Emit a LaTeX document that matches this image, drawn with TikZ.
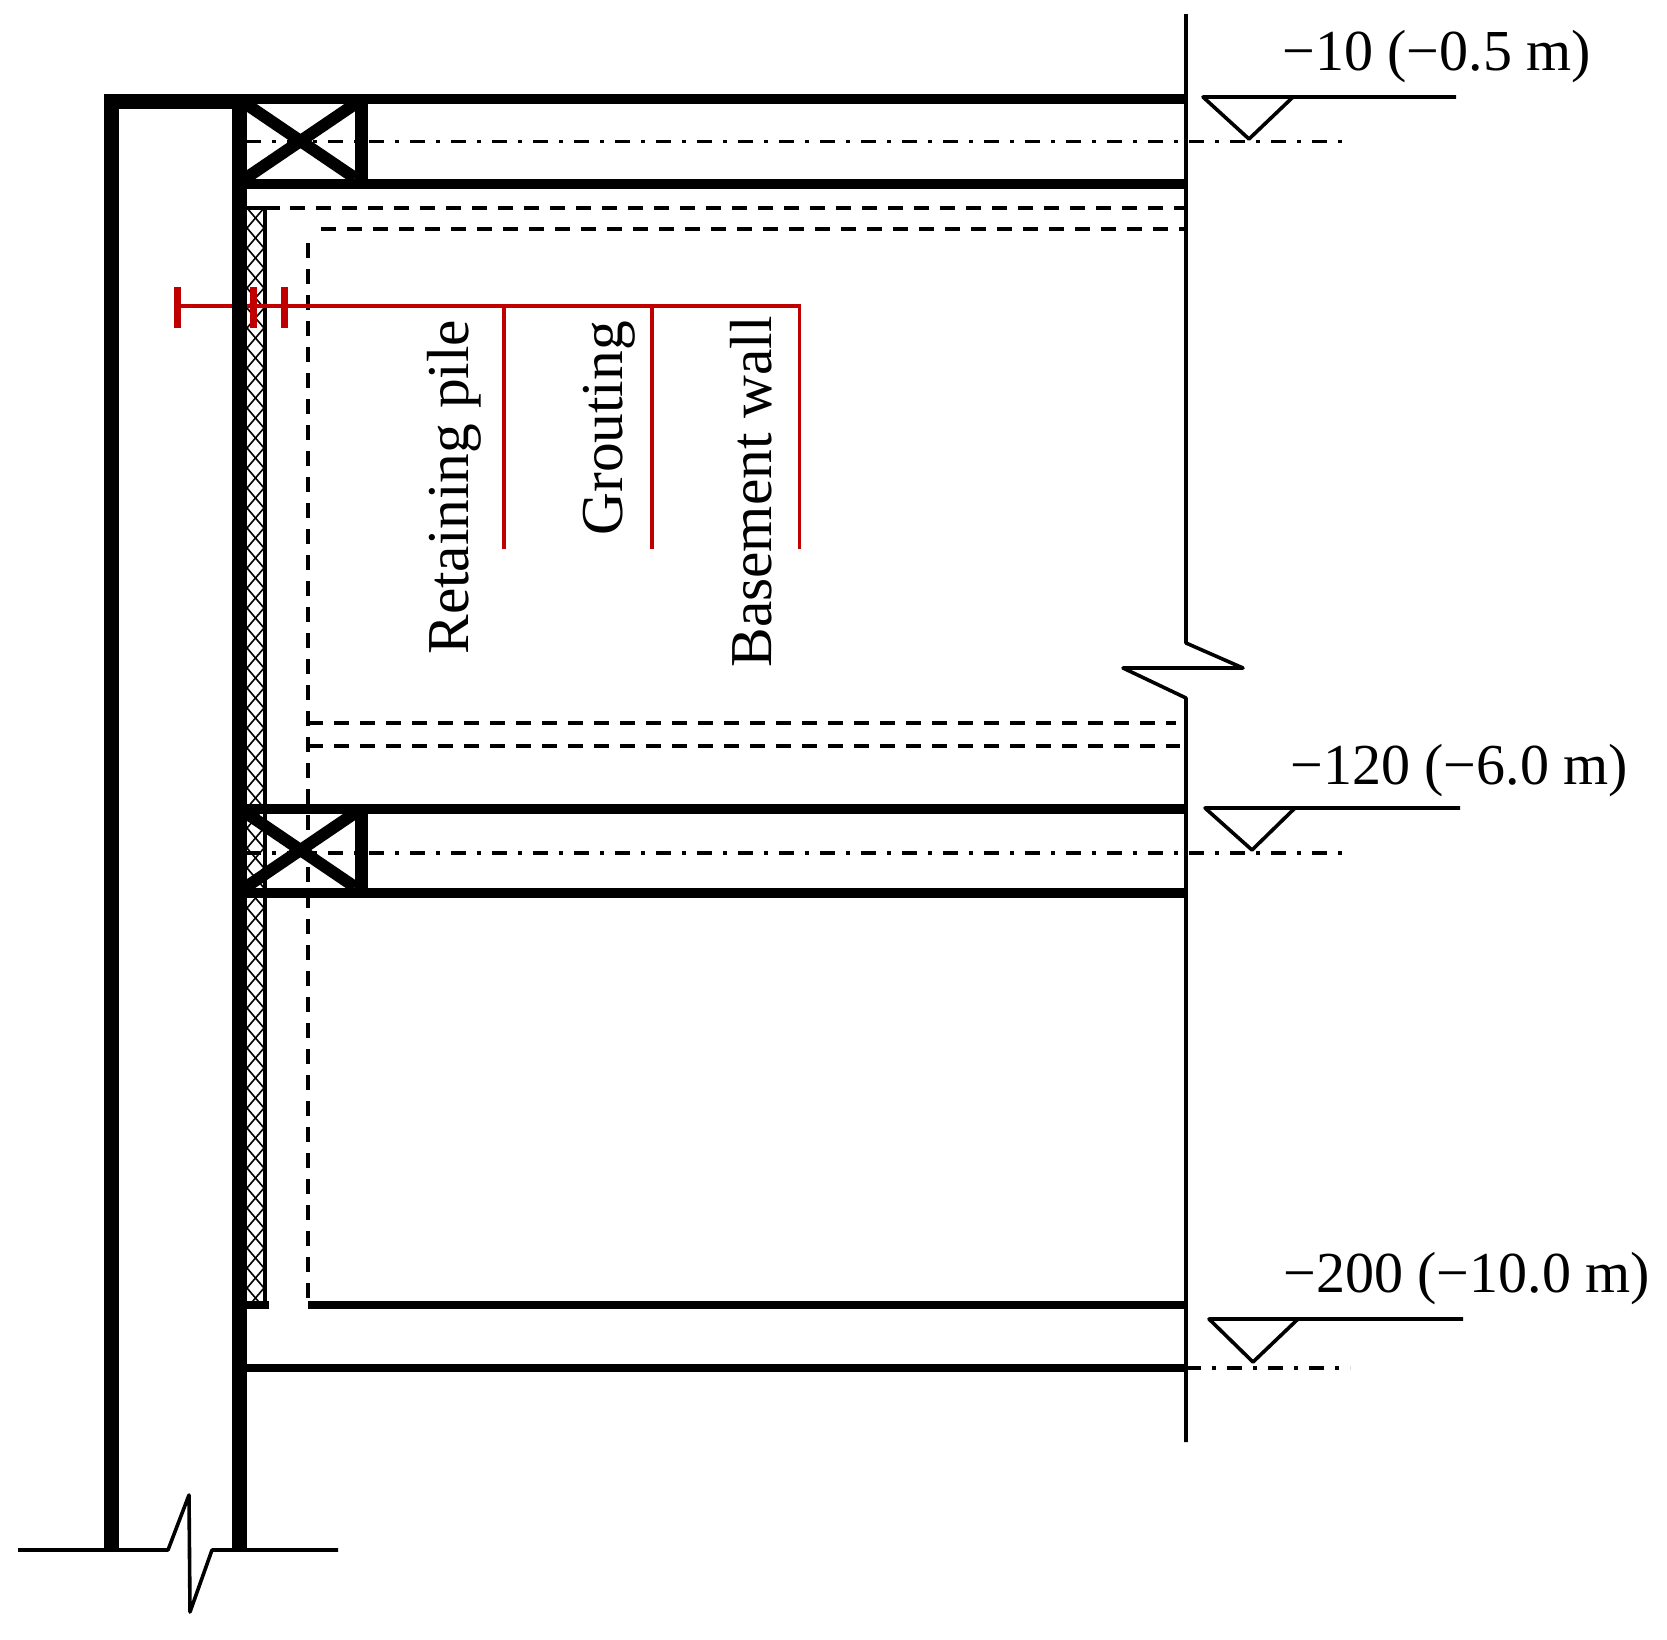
\documentclass[tikz,border=0pt]{standalone}
\usepackage{fontspec}
\setmainfont{Liberation Serif}
\usepackage{xcolor}
\definecolor{leadred}{HTML}{C00000}

\begin{document}
\begin{tikzpicture}[x=0.5pt,y=-0.5pt,
    wall/.style={line width=7.5pt,miter limit=10},
    beam/.style={line width=5.3pt},
    slab/.style={line width=3.7pt},
    thinline/.style={line width=1.8pt,line join=round},
    hatch/.style={line width=0.8pt},
    hidden/.style={line width=1.8pt,dash pattern=on 7.5pt off 5.5pt},
    axis/.style={line width=1.9pt,dash pattern=on 7.5pt off 5.5pt on 2pt off 5.5pt},
    leader/.style={leadred,line width=1.8pt},
    leadtick/.style={leadred,line width=3.5pt},
    level/.style={anchor=base west,inner sep=0pt,font=\fontsize{29}{29}\selectfont},
    tag/.style={anchor=base west,inner sep=0pt,rotate=90,font=\fontsize{29.7}{29.7}\selectfont},
    ]
	\useasboundingbox (0,0) rectangle (1667,1640);
	% grouting
	\foreach \y in {208,228,...,1290}{
		\draw[hatch] (247,\y) -- (264,\y+20);
		\draw[hatch] (264,\y) -- (247,\y+20);
	}
	\draw[thinline] (246,208) -- (280,208);
	\draw[thinline] (265,208) -- (265,1305);
	% basement wall and centre lines
	\draw[hidden] (290,208) -- (1186,208);
	\draw[hidden] (321,229) -- (1186,229);
	\draw[hidden] (308,243) -- (308,1300);
	\draw[hidden] (308,723) -- (1176,723);
	\draw[hidden] (308,746) -- (1180,746);
	\draw[axis] (246,141.5) -- (1348,141.5);
	\draw[axis] (246,853) -- (1350,853);
	\draw[axis] (1186,1368) -- (1350,1368);
	% red leaders
	\draw[leader] (177,306) -- (799.5,306) -- (799.5,549);
	\draw[leader] (504,306) -- (504,549);
	\draw[leader] (652,306) -- (652,549);
	\draw[leadtick] (177,287) -- (177,328);
	\draw[leadtick] (253,287) -- (253,328);
	\draw[leadtick] (284,287) -- (284,328);
	% retaining pile
	\draw[wall] (111.5,1550) -- (111.5,101) -- (239,101) -- (239,1550);
	% top beam
	\draw[beam] (239,99) -- (1186,99);
	\draw[beam] (239,184) -- (1186,184);
	\draw[line width=6.5pt] (361.5,99) -- (361.5,184);
	\draw[line width=6pt] (246,104) -- (355,178);
	\draw[line width=6pt] (355,104) -- (246,178);
	% middle beam
	\draw[beam] (239,809) -- (1186,809);
	\draw[beam] (239,893) -- (1186,893);
	\draw[line width=6.5pt] (361.5,809) -- (361.5,893);
	\draw[line width=6pt] (246,813) -- (355,887);
	\draw[line width=6pt] (355,813) -- (246,887);
	% floor
	\draw[slab] (246,1305) -- (269,1305);
	\draw[slab] (308,1305) -- (1186,1305);
	\draw[slab] (239,1368) -- (1186,1368);
	% break lines
	\draw[thinline] (1186,14) -- (1186,643) -- (1243,668) -- (1123,668) -- (1186,698) -- (1186,1442);
	\draw[thinline] (18,1550) -- (168,1550) -- (189,1495) -- (190,1612) -- (212,1550) -- (338,1550);
	% levels
	\draw[thinline] (1456,97) -- (1203,97) -- (1249,139) -- (1293,97);
	\draw[thinline] (1460,808) -- (1205,808) -- (1252,850) -- (1295,808);
	\draw[thinline] (1463,1319) -- (1209,1319) -- (1253,1362) -- (1298,1319);
	\node[level] (levela) at (1282,70) {−10 (−0.5 m)};
	\node[level] (levelb) at (1290,784) {−120 (−6.0 m)};
	\node[level] (levelc) at (1283,1292) {−200 (−10.0 m)};
	% leader labels
	\node[tag] (pile) at (468,655) {Retaining pile};
	\node[tag] (grout) at (622,536) {Grouting};
	\node[tag] (bwall) at (771,668) {Basement wall};
\end{tikzpicture}
\end{document}
